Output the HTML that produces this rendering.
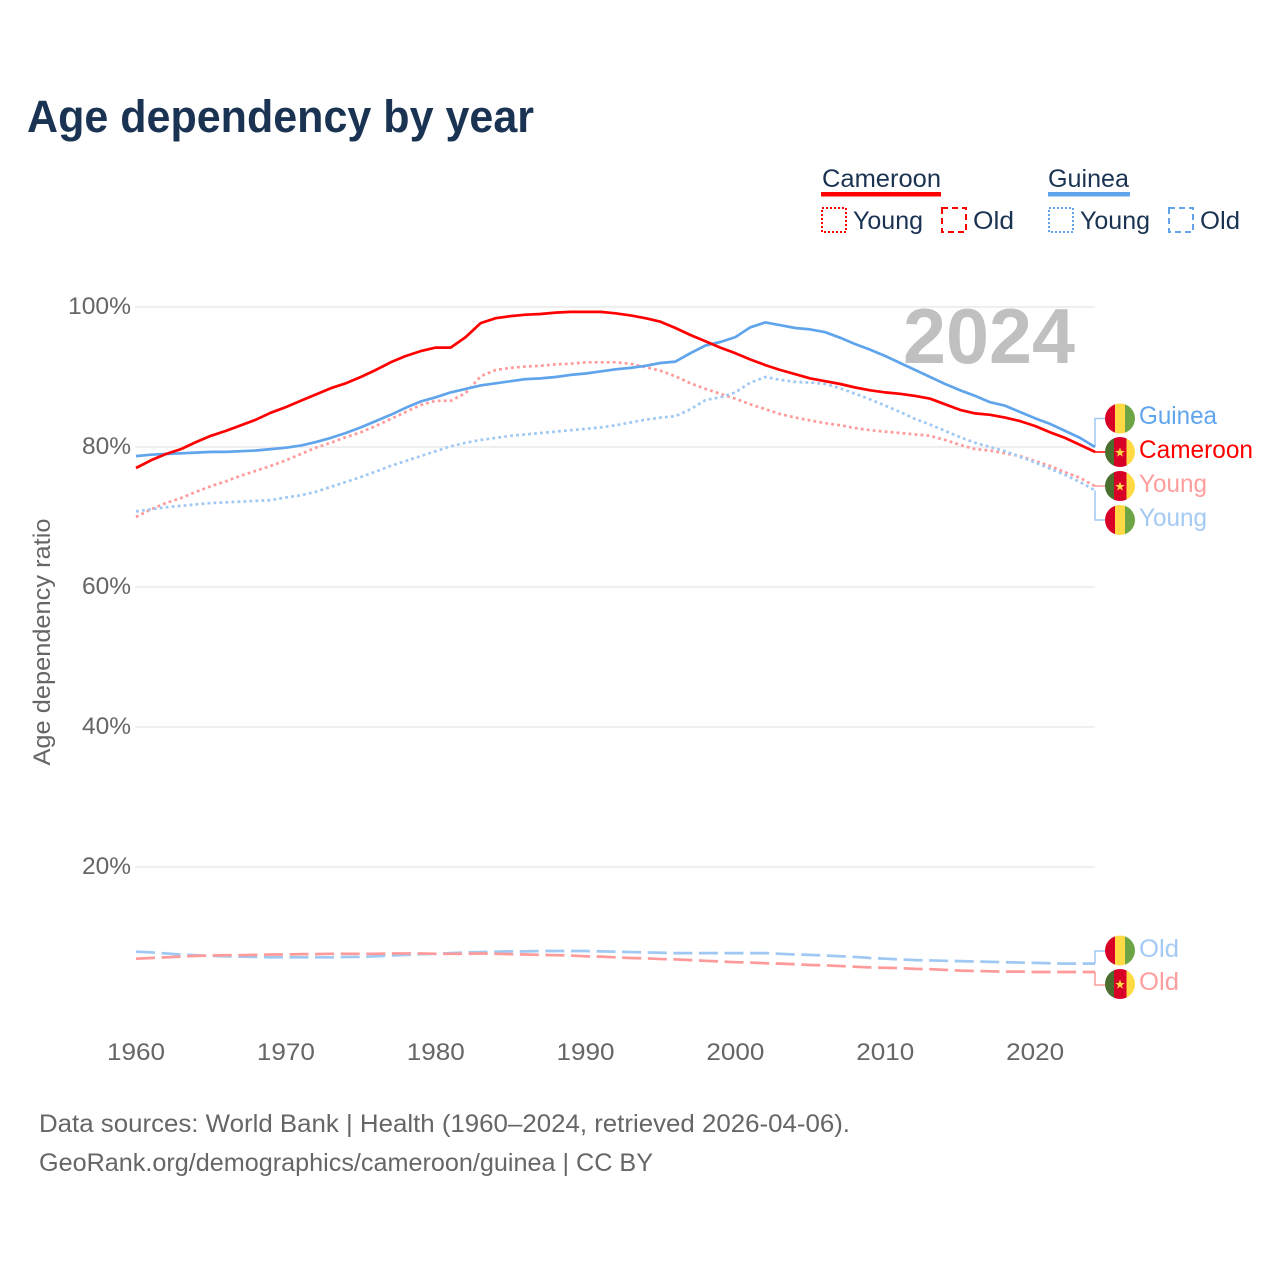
<!DOCTYPE html>
<html lang="en">
<head>
<meta charset="utf-8">
<title>Age dependency by year</title>
<style>
html,body{margin:0;padding:0;background:#fff;width:1280px;height:1280px;overflow:hidden}
svg{display:block}
text{font-family:"Liberation Sans",sans-serif}
</style>
</head>
<body>
<svg id="chart" xmlns="http://www.w3.org/2000/svg" width="1280" height="1280" viewBox="0 0 1280 1280">
  <rect width="1280" height="1280" fill="#fff"/>
  <text x="27" y="132" font-size="45" font-weight="700" fill="#1a3353" textLength="507" lengthAdjust="spacingAndGlyphs">Age dependency by year</text>

  <g font-size="25" fill="#1a3353">
    <text x="822" y="187" textLength="119" lengthAdjust="spacingAndGlyphs">Cameroon</text>
    <rect x="821" y="192" width="120" height="4.5" fill="#ff0000"/>
    <rect x="822" y="208" width="24" height="24" fill="none" stroke="#ff0000" stroke-width="2" stroke-dasharray="2 2"/>
    <text x="853" y="229" textLength="70" lengthAdjust="spacingAndGlyphs">Young</text>
    <rect x="942" y="208" width="24" height="24" fill="none" stroke="#ff0000" stroke-width="2" stroke-dasharray="6 4"/>
    <text x="973" y="229" textLength="41" lengthAdjust="spacingAndGlyphs">Old</text>
    <text x="1048" y="187" textLength="81" lengthAdjust="spacingAndGlyphs">Guinea</text>
    <rect x="1048" y="192" width="82" height="4.5" fill="#60a5ec"/>
    <rect x="1049" y="208" width="24" height="24" fill="none" stroke="#60a5ec" stroke-width="2" stroke-dasharray="2 2"/>
    <text x="1080" y="229" textLength="70" lengthAdjust="spacingAndGlyphs">Young</text>
    <rect x="1169" y="208" width="24" height="24" fill="none" stroke="#60a5ec" stroke-width="2" stroke-dasharray="6 4"/>
    <text x="1200" y="229" textLength="40" lengthAdjust="spacingAndGlyphs">Old</text>
  </g>

  <g id="grid"></g>
  <g id="yticks"></g>
  <g id="xticks"></g>
  <text transform="translate(50,642) rotate(-90)" text-anchor="middle" font-size="24" fill="#666" textLength="247" lengthAdjust="spacingAndGlyphs">Age dependency ratio</text>
  <text x="903" y="363" font-size="78" font-weight="700" fill="#c0c0c0" textLength="172" lengthAdjust="spacingAndGlyphs">2024</text>

  <g id="connectors"></g>
  <g id="series"></g>

  <defs>
    <clipPath id="flag-clip"><circle cx="15" cy="15" r="15"/></clipPath>
    <g id="flag-guinea">
      <g clip-path="url(#flag-clip)">
        <rect x="0" width="10" height="30" fill="#d80027"/>
        <rect x="10" width="10" height="30" fill="#ffda44"/>
        <rect x="20" width="10" height="30" fill="#6da544"/>
      </g>
    </g>
    <g id="flag-cameroon">
      <g clip-path="url(#flag-clip)">
        <rect x="0" width="9" height="30" fill="#496e2d"/>
        <rect x="9" width="12.5" height="30" fill="#d80027"/>
        <rect x="21.5" width="8.5" height="30" fill="#ffda44"/>
        <polygon points="15,10.5 16.2,13.9 19.8,14 16.9,16.2 17.9,19.7 15,17.6 12.1,19.7 13.1,16.2 10.2,14 13.8,13.9" fill="#ffda44"/>
      </g>
    </g>
  </defs>

  <g font-size="25">
    <use href="#flag-guinea" x="1105" y="403.5"/>
    <text x="1139" y="424" fill="#60a5ec" textLength="78" lengthAdjust="spacingAndGlyphs">Guinea</text>
    <use href="#flag-cameroon" x="1105" y="437"/>
    <text x="1139" y="458" fill="#ff0000" textLength="114" lengthAdjust="spacingAndGlyphs">Cameroon</text>
    <use href="#flag-cameroon" x="1105" y="471"/>
    <text x="1139" y="492" fill="#ff9e9e" textLength="68" lengthAdjust="spacingAndGlyphs">Young</text>
    <use href="#flag-guinea" x="1105" y="505"/>
    <text x="1139" y="526" fill="#a3caf4" textLength="68" lengthAdjust="spacingAndGlyphs">Young</text>
    <use href="#flag-guinea" x="1105" y="935.5"/>
    <text x="1139" y="957" fill="#a3caf4" textLength="40" lengthAdjust="spacingAndGlyphs">Old</text>
    <use href="#flag-cameroon" x="1105" y="969"/>
    <text x="1139" y="990" fill="#ff9e9e" textLength="40" lengthAdjust="spacingAndGlyphs">Old</text>
  </g>

  <g font-size="25" fill="#666">
    <text x="39" y="1132" textLength="811" lengthAdjust="spacingAndGlyphs">Data sources: World Bank | Health (1960–2024, retrieved 2026-04-06).</text>
    <text x="39" y="1171" textLength="614" lengthAdjust="spacingAndGlyphs">GeoRank.org/demographics/cameroon/guinea | CC BY</text>
  </g>
</svg>

<script>
const firstYear = 1960;
const lastYear = 2024;
const xTickLabels = [1960, 1970, 1980, 1990, 2000, 2010, 2020];
const yTickLabels = [20, 40, 60, 80, 100];

const cameroonTotal = [
  77.0,78.1,79.0,79.7,80.7,81.6,82.3,83.1,83.9,84.9,
  85.7,86.6,87.5,88.4,89.1,90.0,91.0,92.1,93.0,93.7,
  94.2,94.2,95.7,97.7,98.4,98.7,98.9,99.0,99.2,99.3,
  99.3,99.3,99.1,98.8,98.4,97.9,97.0,96.0,95.1,94.2,
  93.4,92.5,91.7,91.0,90.4,89.8,89.4,89.0,88.5,88.1,
  87.8,87.6,87.3,86.9,86.1,85.3,84.8,84.6,84.2,83.7,
  83.0,82.1,81.3,80.3,79.3
];
const guineaTotal = [
  78.7,78.9,79.0,79.1,79.2,79.3,79.3,79.4,79.5,79.7,
  79.9,80.2,80.7,81.3,82.0,82.8,83.7,84.6,85.6,86.5,
  87.1,87.8,88.3,88.8,89.1,89.4,89.7,89.8,90.0,90.3,
  90.5,90.8,91.1,91.3,91.6,92.0,92.2,93.4,94.5,95.0,
  95.7,97.1,97.8,97.4,97.0,96.8,96.4,95.6,94.7,93.9,
  93.0,92.0,91.0,90.0,89.0,88.1,87.3,86.4,85.9,85.0,
  84.1,83.3,82.3,81.3,80.0
];
const cameroonYoung = [
  70.0,71.1,72.0,72.7,73.6,74.4,75.1,75.9,76.6,77.3,
  78.1,79.0,79.9,80.6,81.4,82.1,83.0,84.0,85.0,86.0,
  86.6,86.6,87.7,90.1,91.0,91.3,91.5,91.6,91.8,91.9,
  92.1,92.1,92.1,91.9,91.4,90.9,90.1,89.1,88.3,87.6,
  86.9,86.1,85.4,84.7,84.2,83.8,83.4,83.1,82.7,82.4,
  82.2,82.0,81.8,81.6,81.0,80.3,79.7,79.5,79.1,78.7,
  78.0,77.3,76.4,75.6,74.4
];
const guineaYoung = [
  70.8,71.1,71.4,71.6,71.8,72.0,72.1,72.2,72.3,72.4,
  72.8,73.1,73.6,74.3,75.0,75.7,76.5,77.3,78.0,78.7,
  79.4,80.1,80.6,81.0,81.3,81.6,81.8,82.0,82.2,82.4,
  82.6,82.8,83.1,83.5,83.9,84.2,84.4,85.4,86.7,87.1,
  87.8,89.2,90.0,89.6,89.3,89.2,89.0,88.4,87.6,86.8,
  85.9,85.0,84.0,83.2,82.3,81.4,80.6,80.0,79.4,78.6,
  77.8,76.9,76.0,75.0,73.8
];
const cameroonOld = [
  6.9,7.0,7.1,7.2,7.3,7.35,7.4,7.4,7.45,7.5,
  7.5,7.55,7.55,7.6,7.6,7.6,7.6,7.65,7.65,7.65,
  7.6,7.6,7.6,7.65,7.6,7.55,7.5,7.45,7.4,7.35,
  7.25,7.2,7.1,7.0,6.95,6.85,6.8,6.7,6.6,6.5,
  6.4,6.35,6.25,6.2,6.1,6.0,5.95,5.85,5.75,5.65,
  5.6,5.55,5.45,5.4,5.3,5.2,5.15,5.1,5.05,5.05,
  5.0,5.0,5.0,5.0,5.0
];
const guineaOld = [
  7.9,7.8,7.65,7.5,7.4,7.3,7.25,7.2,7.15,7.1,
  7.1,7.1,7.1,7.1,7.15,7.15,7.25,7.35,7.45,7.55,
  7.6,7.7,7.8,7.85,7.9,7.95,7.95,8.0,8.0,8.0,
  8.0,7.95,7.9,7.85,7.8,7.75,7.7,7.7,7.7,7.7,
  7.7,7.7,7.7,7.6,7.5,7.45,7.35,7.25,7.15,7.0,
  6.9,6.8,6.7,6.65,6.6,6.55,6.5,6.45,6.4,6.35,
  6.3,6.25,6.2,6.2,6.2
];

const NS = 'http://www.w3.org/2000/svg';
const plotLeft = 136;
const plotRight = 1095;
const zeroY = 1007;
const pxPerPercent = 7;

function xScale(year) {
  return plotLeft + (year - firstYear) * (plotRight - plotLeft) / (lastYear - firstYear);
}
function yScale(value) {
  return zeroY - value * pxPerPercent;
}
function make(tag, attrs, parentId, content) {
  const el = document.createElementNS(NS, tag);
  for (const k in attrs) el.setAttribute(k, attrs[k]);
  if (content !== undefined) el.textContent = content;
  document.getElementById(parentId).appendChild(el);
  return el;
}

yTickLabels.forEach(function (tick) {
  const line = make('line', {x1: plotLeft - 1, x2: plotRight, y1: yScale(tick), y2: yScale(tick), stroke: '#eaeaea', 'stroke-width': 1.5}, 'grid');
  
  
  const label = make('text', {x: 131, y: yScale(tick) + 7, 'text-anchor': 'end', 'font-size': 24, fill: '#666', textLength: tick === 100 ? 63 : 49, lengthAdjust: 'spacingAndGlyphs'}, 'yticks', tick + '%');
  
  
});

xTickLabels.forEach(function (year) {
  const label = make('text', {x: xScale(year), y: 1060, 'text-anchor': 'middle', 'font-size': 24, fill: '#666', textLength: 58, lengthAdjust: 'spacingAndGlyphs'}, 'xticks', String(year));
  
  
});

function drawSeries(values, color, width, dash, name) {
  const pts = values.map(function (v, i) {
    return xScale(firstYear + i).toFixed(2) + ',' + yScale(v).toFixed(2);
  }).join(' ');
  const attrs = {points: pts, fill: 'none', stroke: color, 'stroke-width': width, 'stroke-linejoin': 'round'};
  if (dash) attrs['stroke-dasharray'] = dash;
  const line = make('polyline', attrs, 'series');
  
  
}

const PALE_RED = '#ff9a9a';
const PALE_BLUE = '#9fc8f3';
drawSeries(guineaOld, PALE_BLUE, 2.7, '19 6.6', 'line-guinea-old');
drawSeries(cameroonOld, PALE_RED, 2.7, '19 6.6', 'line-cameroon-old');
drawSeries(cameroonYoung, PALE_RED, 2.7, '2.8 3.2', 'line-cameroon-young');
drawSeries(guineaYoung, PALE_BLUE, 2.7, '2.8 3.2', 'line-guinea-young');
drawSeries(guineaTotal, '#60a5ec', 2.7, null, 'line-guinea-total');
drawSeries(cameroonTotal, '#ff0000', 2.7, null, 'line-cameroon-total');

function drawConnector(values, labelY, color, name) {
  const endY = yScale(values[values.length - 1]);
  const line = make('polyline', {points: plotRight + ',' + endY + ' ' + plotRight + ',' + labelY + ' 1106,' + labelY, fill: 'none', stroke: color, 'stroke-width': 1.5}, 'connectors');
  
  
}
drawConnector(guineaTotal, 418.5, PALE_BLUE, 'connector-guinea-total');
drawConnector(cameroonTotal, 452, '#ff0000', 'connector-cameroon-total');
drawConnector(cameroonYoung, 486, PALE_RED, 'connector-cameroon-young');
drawConnector(guineaYoung, 520, PALE_BLUE, 'connector-guinea-young');
drawConnector(guineaOld, 951, PALE_BLUE, 'connector-guinea-old');
drawConnector(cameroonOld, 985, PALE_RED, 'connector-cameroon-old');
</script>
</body>
</html>
